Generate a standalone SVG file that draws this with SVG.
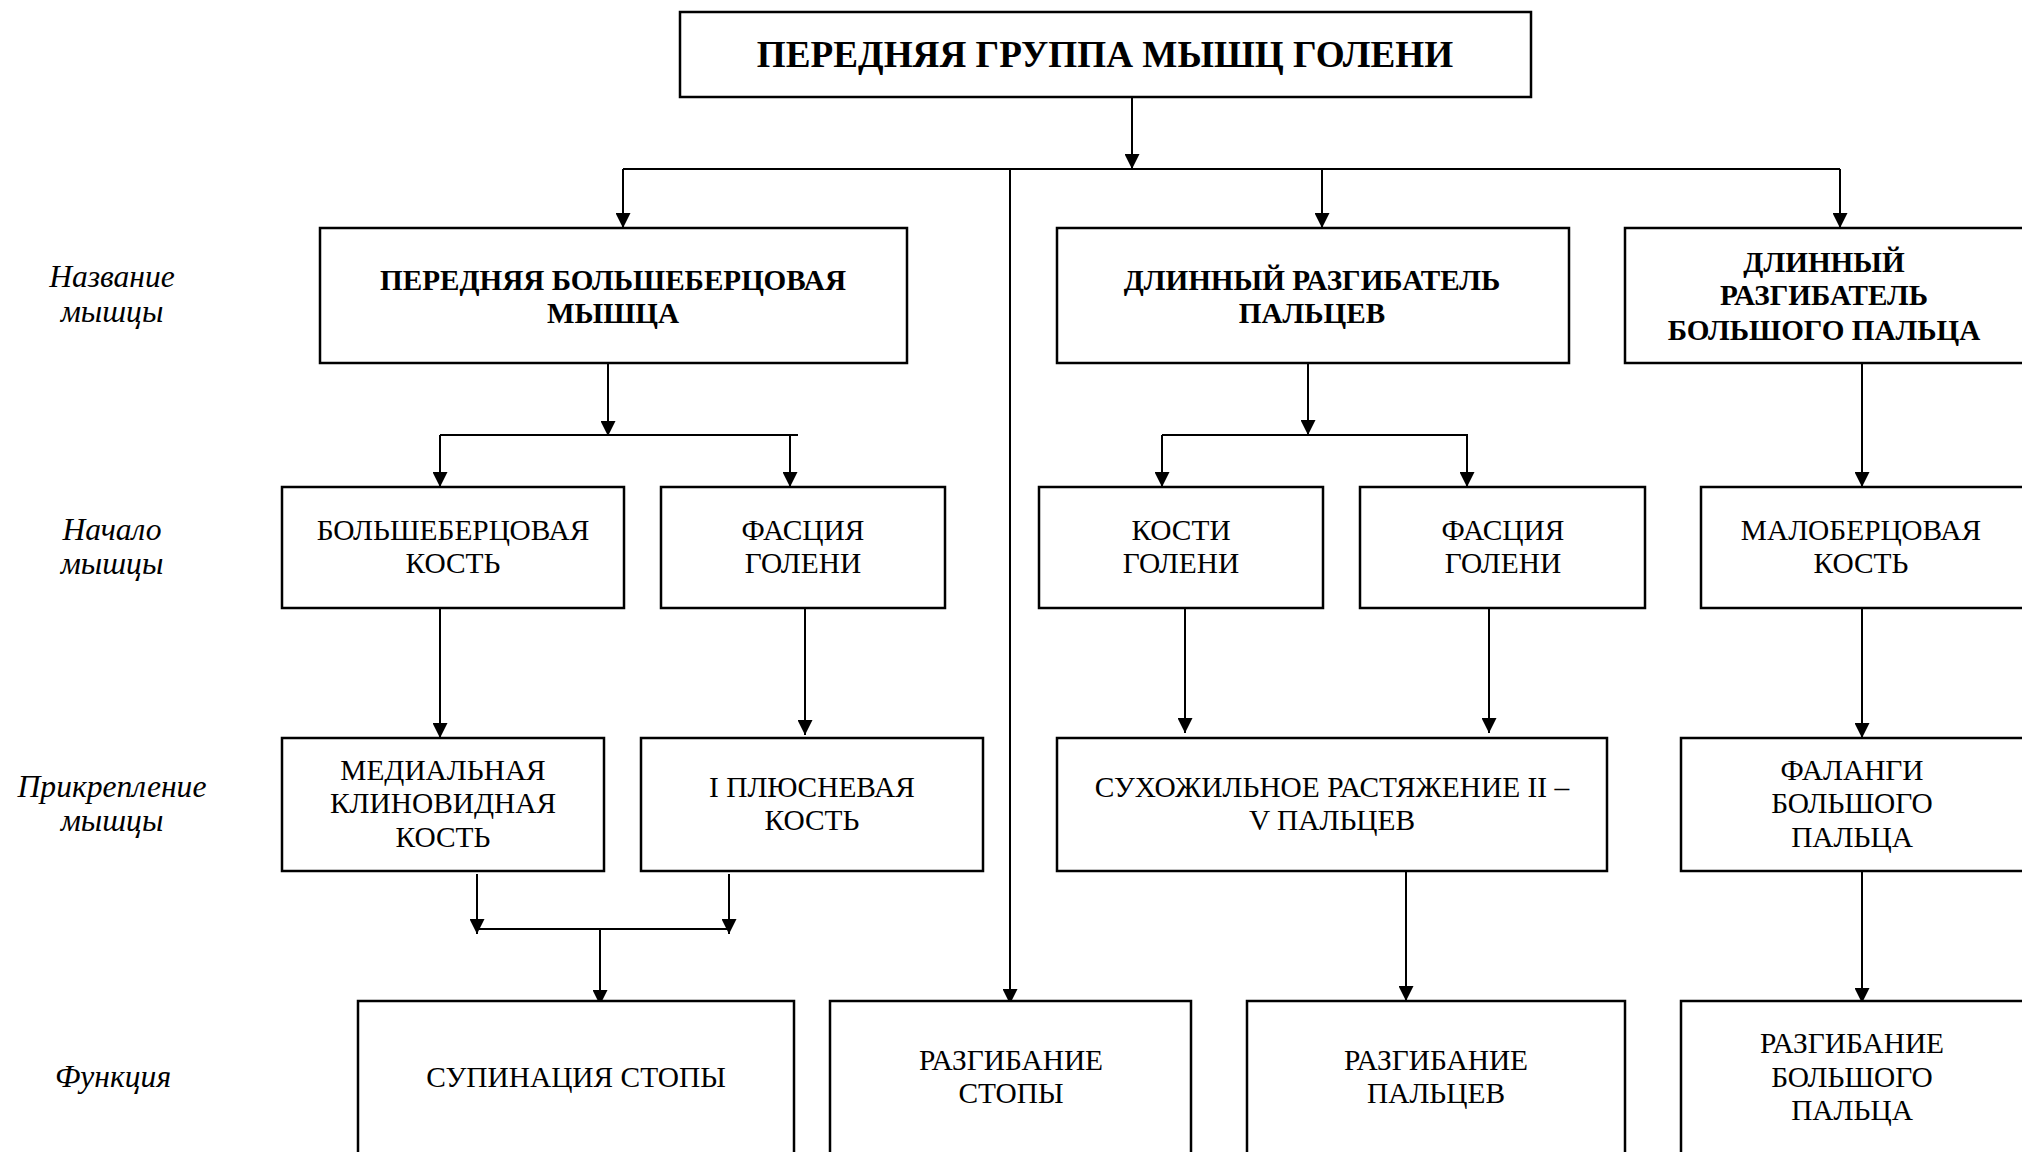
<svg xmlns="http://www.w3.org/2000/svg" width="2022" height="1152" viewBox="0 0 2022 1152">
  <style>
    .box { fill: #fff; stroke: #000; stroke-width: 2.5; }
    .t { font-family: "Liberation Serif", "Times New Roman", serif; font-size: 29.4px; fill: #000; text-anchor: middle; }
    .b { font-weight: bold; font-size: 29.2px; }
    .title { font-family: "Liberation Serif", "Times New Roman", serif; font-size: 37.2px; font-weight: bold; fill: #000; text-anchor: middle; }
    .lbl { font-family: "Liberation Serif", "Times New Roman", serif; font-size: 31.6px; font-style: italic; fill: #000; text-anchor: middle; }
    .ln { fill: none; stroke: #000; stroke-width: 2; }
    .arr { fill: none; stroke: #000; stroke-width: 2; marker-end: url(#ah); }
  </style>
  <defs>
    <marker id="ah" markerUnits="userSpaceOnUse" markerWidth="15" markerHeight="15" refX="15" refY="7.5" orient="auto">
      <path d="M0,0 L15,7.5 L0,15 z" fill="#000"/>
    </marker>
  </defs>
  <rect width="2022" height="1152" fill="#fff"/>

  <!-- row captions -->
  <g id="captions">
    <text class="lbl" x="112" y="287">Название</text>
    <text class="lbl" x="112" y="322">мышцы</text>
    <text class="lbl" x="112" y="540">Начало</text>
    <text class="lbl" x="112" y="574">мышцы</text>
    <text class="lbl" x="112" y="797">Прикрепление</text>
    <text class="lbl" x="112" y="831">мышцы</text>
    <text class="lbl" x="113" y="1087">Функция</text>
  </g>

  <!-- connectors -->
  <g id="connectors">
    <path class="arr" d="M1132,97 V169"/>
    <path class="ln" d="M623,169 H1840"/>
    <path class="arr" d="M623,169 V228"/>
    <path class="arr" d="M1322,169 V228"/>
    <path class="arr" d="M1840,169 V228"/>
    <path class="arr" d="M1010,169 V1004"/>

    <path class="arr" d="M608,363 V436"/>
    <path class="ln" d="M440,435 H798"/>
    <path class="arr" d="M440,435 V487"/>
    <path class="arr" d="M790,435 V487"/>

    <path class="arr" d="M1308,363 V435"/>
    <path class="ln" d="M1162,435 H1468"/>
    <path class="arr" d="M1162,435 V487"/>
    <path class="arr" d="M1467,435 V487"/>

    <path class="arr" d="M1862,363 V487"/>

    <path class="arr" d="M440,608 V738"/>
    <path class="arr" d="M805,608 V735"/>
    <path class="arr" d="M1185,608 V733"/>
    <path class="arr" d="M1489,608 V733"/>
    <path class="arr" d="M1862,608 V738"/>

    <path class="arr" d="M477,874 V934"/>
    <path class="arr" d="M729,874 V934"/>
    <path class="ln" d="M477,929 H729"/>
    <path class="arr" d="M600,929 V1005"/>

    <path class="arr" d="M1406,871 V1001"/>
    <path class="arr" d="M1862,871 V1003"/>
  </g>

  <!-- top node -->
  <g id="n-group">
    <rect class="box" x="680" y="12" width="851" height="85"/>
    <text class="title" x="1105" y="67">ПЕРЕДНЯЯ ГРУППА МЫШЦ ГОЛЕНИ</text>
  </g>

  <!-- muscle names -->
  <g id="n-tibialis">
    <rect class="box" x="320" y="228" width="587" height="135"/>
    <text class="t b" x="613" y="290">ПЕРЕДНЯЯ БОЛЬШЕБЕРЦОВАЯ</text>
    <text class="t b" x="613" y="323">МЫШЦА</text>
  </g>
  <g id="n-edl">
    <rect class="box" x="1057" y="228" width="512" height="135"/>
    <text class="t b" x="1312" y="290">ДЛИННЫЙ РАЗГИБАТЕЛЬ</text>
    <text class="t b" x="1312" y="323">ПАЛЬЦЕВ</text>
  </g>
  <g id="n-ehl">
    <rect class="box" x="1625" y="228" width="420" height="135"/>
    <text class="t b" x="1824" y="272">ДЛИННЫЙ</text>
    <text class="t b" x="1824" y="305">РАЗГИБАТЕЛЬ</text>
    <text class="t b" x="1824" y="340">БОЛЬШОГО ПАЛЬЦА</text>
  </g>

  <!-- origins -->
  <g id="n-tibia">
    <rect class="box" x="282" y="487" width="342" height="121"/>
    <text class="t" x="453" y="540">БОЛЬШЕБЕРЦОВАЯ</text>
    <text class="t" x="453" y="573">КОСТЬ</text>
  </g>
  <g id="n-fascia1">
    <rect class="box" x="661" y="487" width="284" height="121"/>
    <text class="t" x="803" y="540">ФАСЦИЯ</text>
    <text class="t" x="803" y="573">ГОЛЕНИ</text>
  </g>
  <g id="n-leg-bones">
    <rect class="box" x="1039" y="487" width="284" height="121"/>
    <text class="t" x="1181" y="540">КОСТИ</text>
    <text class="t" x="1181" y="573">ГОЛЕНИ</text>
  </g>
  <g id="n-fascia2">
    <rect class="box" x="1360" y="487" width="285" height="121"/>
    <text class="t" x="1503" y="540">ФАСЦИЯ</text>
    <text class="t" x="1503" y="573">ГОЛЕНИ</text>
  </g>
  <g id="n-fibula">
    <rect class="box" x="1701" y="487" width="340" height="121"/>
    <text class="t" x="1861" y="540">МАЛОБЕРЦОВАЯ</text>
    <text class="t" x="1861" y="573">КОСТЬ</text>
  </g>

  <!-- insertions -->
  <g id="n-cuneiform">
    <rect class="box" x="282" y="738" width="322" height="133"/>
    <text class="t" x="443" y="780">МЕДИАЛЬНАЯ</text>
    <text class="t" x="443" y="813">КЛИНОВИДНАЯ</text>
    <text class="t" x="443" y="847">КОСТЬ</text>
  </g>
  <g id="n-metatarsal">
    <rect class="box" x="641" y="738" width="342" height="133"/>
    <text class="t" x="812" y="797">I ПЛЮСНЕВАЯ</text>
    <text class="t" x="812" y="830">КОСТЬ</text>
  </g>
  <g id="n-tendon">
    <rect class="box" x="1057" y="738" width="550" height="133"/>
    <text class="t" x="1332" y="797">СУХОЖИЛЬНОЕ РАСТЯЖЕНИЕ II –</text>
    <text class="t" x="1332" y="830">V ПАЛЬЦЕВ</text>
  </g>
  <g id="n-phalanges">
    <rect class="box" x="1681" y="738" width="360" height="133"/>
    <text class="t" x="1852" y="780">ФАЛАНГИ</text>
    <text class="t" x="1852" y="813">БОЛЬШОГО</text>
    <text class="t" x="1852" y="847">ПАЛЬЦА</text>
  </g>

  <!-- functions -->
  <g id="n-supination">
    <rect class="box" x="358" y="1001" width="436" height="170"/>
    <text class="t" x="576" y="1087">СУПИНАЦИЯ СТОПЫ</text>
  </g>
  <g id="n-foot-ext">
    <rect class="box" x="830" y="1001" width="361" height="170"/>
    <text class="t" x="1011" y="1070">РАЗГИБАНИЕ</text>
    <text class="t" x="1011" y="1103">СТОПЫ</text>
  </g>
  <g id="n-toes-ext">
    <rect class="box" x="1247" y="1001" width="378" height="170"/>
    <text class="t" x="1436" y="1070">РАЗГИБАНИЕ</text>
    <text class="t" x="1436" y="1103">ПАЛЬЦЕВ</text>
  </g>
  <g id="n-hallux-ext">
    <rect class="box" x="1681" y="1001" width="360" height="170"/>
    <text class="t" x="1852" y="1053">РАЗГИБАНИЕ</text>
    <text class="t" x="1852" y="1087">БОЛЬШОГО</text>
    <text class="t" x="1852" y="1120">ПАЛЬЦА</text>
  </g>
</svg>
